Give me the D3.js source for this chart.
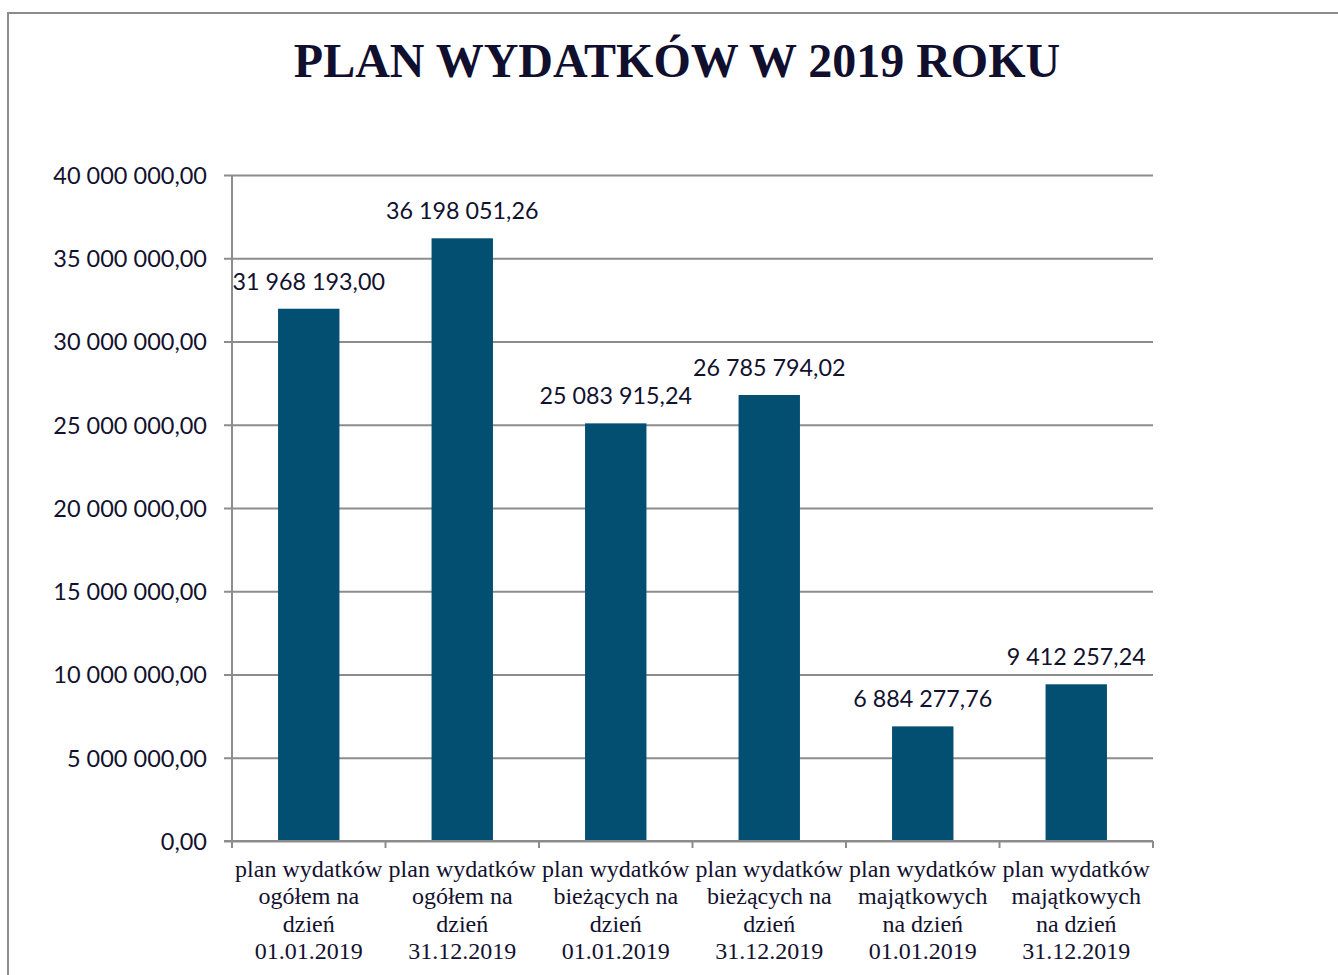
<!DOCTYPE html>
<html><head><meta charset="utf-8">
<script src="https://cdn.jsdelivr.net/npm/d3@7"></script>
<style>html,body{margin:0;padding:0;background:#fff;overflow:hidden}</style>
</head><body>
<svg id="chart" width="1338" height="975"></svg>
<script>
const title = "PLAN WYDATKÓW W 2019 ROKU";
const categories = [
  ["plan wydatków","ogółem na","dzień","01.01.2019"],
  ["plan wydatków","ogółem na","dzień","31.12.2019"],
  ["plan wydatków","bieżących na","dzień","01.01.2019"],
  ["plan wydatków","bieżących na","dzień","31.12.2019"],
  ["plan wydatków","majątkowych","na dzień","01.01.2019"],
  ["plan wydatków","majątkowych","na dzień","31.12.2019"]
];
const values = [31968193.00, 36198051.26, 25083915.24, 26785794.02, 6884277.76, 9412257.24];
const valueLabels = ["31 968 193,00","36 198 051,26","25 083 915,24","26 785 794,02","6 884 277,76","9 412 257,24"];
const yTicks = [0,5000000,10000000,15000000,20000000,25000000,30000000,35000000,40000000];
const yTickLabels = ["0,00","5 000 000,00","10 000 000,00","15 000 000,00","20 000 000,00","25 000 000,00","30 000 000,00","35 000 000,00","40 000 000,00"];

(function(){
const svg = d3.select("#chart");
const pL = 232, pR = 1153, pT = 175, pB = 841;
const grid = "#8c8c8c", txt = "#12112e", barColor = "#034f72";

svg.append("rect").attr("x",8).attr("y",13).attr("width",1400).attr("height",1000)
  .attr("fill","none").attr("stroke","#8c8c8c").attr("stroke-width",2);

svg.append("text").attr("x",677).attr("y",77).attr("text-anchor","middle")
  .attr("font-family","'Liberation Serif','Times New Roman',serif").attr("font-weight","bold")
  .attr("font-size",48).attr("fill","#110f2e").text(title);

const idx = categories.map((c,i)=>i);
const x = d3.scaleBand().domain(idx).range([pL,pR]).paddingInner(0.6).paddingOuter(0.3);
const xb = d3.scaleBand().domain(idx).range([pL,pR]);
const y = d3.scaleLinear().domain([0,40000000]).range([pB,pT]);

const yAxis = d3.axisLeft(y).tickValues(yTicks).tickSize(-(pR-pL)).tickSizeOuter(0)
  .tickFormat((d,i)=>yTickLabels[i]).tickPadding(0);
const ga = svg.append("g").attr("transform",`translate(${pL},0)`).call(yAxis);
ga.select(".domain").remove();
ga.selectAll(".tick line").attr("stroke",grid).attr("stroke-width",2).attr("x1",-8);
ga.selectAll(".tick text").attr("x",-25).attr("dy","0.36em")
  .attr("font-family","Lato,'Open Sans',sans-serif").attr("font-size",23.5).attr("fill",txt);
svg.append("line").attr("x1",pL).attr("x2",pL).attr("y1",pT).attr("y2",pB)
  .attr("stroke",grid).attr("stroke-width",2);

svg.selectAll("rect.bar").data(values).enter().append("rect").attr("class","bar")
  .attr("x",(d,i)=>x(i)).attr("width",x.bandwidth())
  .attr("y",d=>y(d)).attr("height",d=>pB-y(d)).attr("fill",barColor);

svg.append("line").attr("x1",pL-8).attr("x2",pR).attr("y1",pB).attr("y2",pB)
  .attr("stroke",grid).attr("stroke-width",2);
const bounds = idx.map(i=>xb(i)).concat([pR]);
svg.selectAll("line.xt").data(bounds).enter().append("line").attr("class","xt")
  .attr("x1",d=>d).attr("x2",d=>d).attr("y1",pB).attr("y2",pB+7)
  .attr("stroke",grid).attr("stroke-width",2);

categories.forEach((lines,i)=>{
  const t = svg.append("text").attr("text-anchor","middle")
    .attr("font-family","'Liberation Serif','Times New Roman',serif").attr("font-size",24)
    .attr("fill",txt);
  lines.forEach((l,k)=>t.append("tspan").attr("x",xb(i)+xb.bandwidth()/2).attr("y",877+k*27.3).text(l));
});

svg.selectAll("text.val").data(values).enter().append("text").attr("class","val")
  .attr("x",(d,i)=>x(i)+x.bandwidth()/2).attr("y",d=>y(d)-19).attr("text-anchor","middle")
  .attr("font-family","Lato,'Open Sans',sans-serif").attr("font-size",23.3).attr("fill",txt)
  .text((d,i)=>valueLabels[i]);
})();
</script>
</body></html>
